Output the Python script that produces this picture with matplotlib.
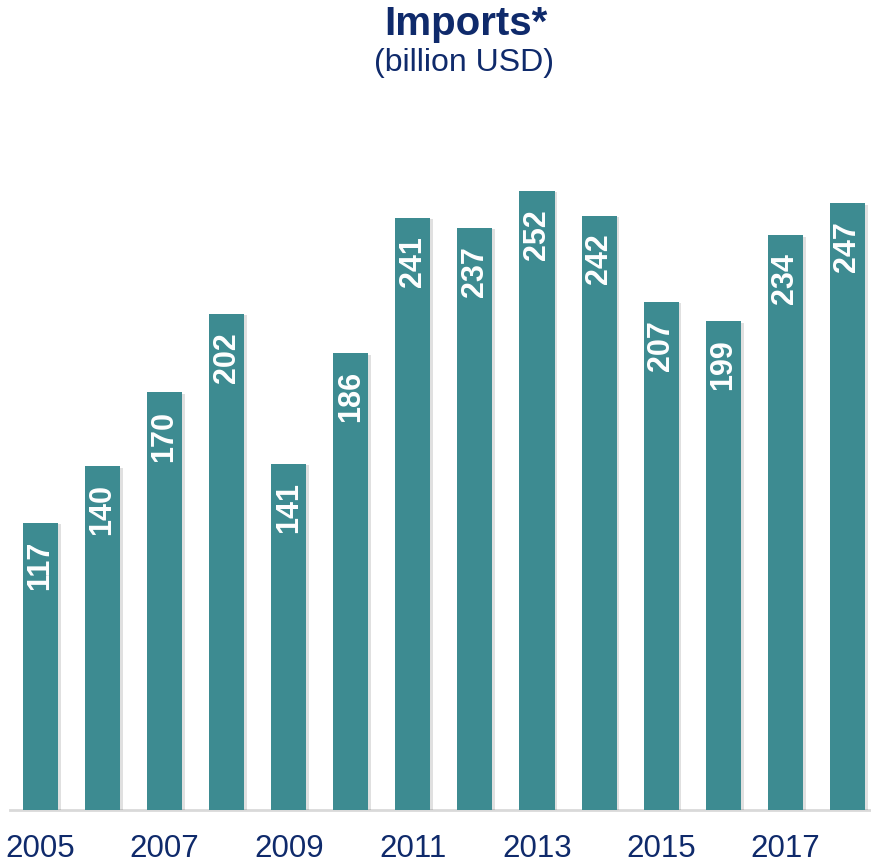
import matplotlib
matplotlib.use("Agg")
import matplotlib.pyplot as plt
import matplotlib.patheffects as pe

years = list(range(2005, 2019))
values = [117, 140, 170, 202, 141, 186, 241, 237, 252, 242, 207, 199, 234, 247]
tick_years = [2005, 2007, 2009, 2011, 2013, 2015, 2017]

plt.rcParams['font.family'] = ['Liberation Sans', 'DejaVu Sans']

TEAL = '#3D8B91'
NAVY = '#0F2A6B'

fig = plt.figure(figsize=(8.71, 8.65), dpi=100)
ax = fig.add_axes([10/871, 55/865, 1 - 10/871, 638.6/865])

x = list(range(len(years)))
bars = ax.bar(x, values, width=0.565, color=TEAL, zorder=3)
for b in bars:
    b.set_path_effects([pe.SimplePatchShadow(offset=(2, -1), shadow_rgbFace='#000000', alpha=0.12), pe.Normal()])

for xi, v in zip(x, values):
    ax.annotate(str(v), (xi, v), xytext=(0, -13), textcoords='offset points',
                rotation=90, ha='center', va='top', color='white',
                fontsize=22, fontweight='bold', zorder=4)

ax.set_xlim(-0.49, 13.38)
ax.set_ylim(0, 260)
for s in ['top', 'right', 'left']:
    ax.spines[s].set_visible(False)
ax.spines['bottom'].set_color('#D9D9D9')
ax.spines['bottom'].set_linewidth(2)
ax.set_yticks([])
ax.set_xticks([years.index(t) for t in tick_years])
ax.set_xticklabels([str(t) for t in tick_years], fontsize=22.5, color=NAVY)
ax.tick_params(axis='x', length=0, pad=17)

fig.text(466/871, 1 - 24/865, 'Imports*', ha='center', va='center', fontsize=29,
         fontweight='bold', color=NAVY)
fig.text(464/871, 1 - 63/865, '(billion USD)', ha='center', va='center', fontsize=23,
         color=NAVY)

fig.savefig('out.png', dpi=100)
